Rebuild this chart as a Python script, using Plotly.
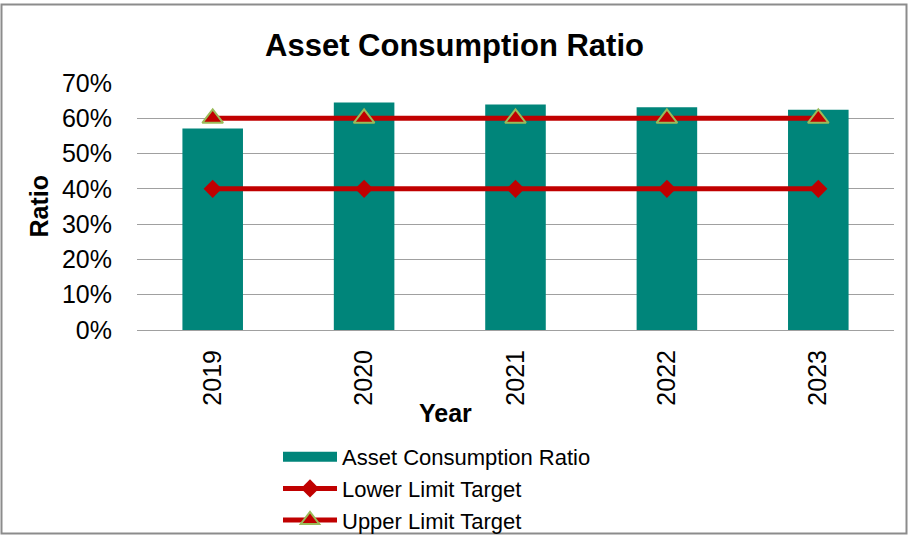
import plotly.graph_objects as go

years = ["2019", "2020", "2021", "2022", "2023"]
consumption_ratio = [0.571, 0.645, 0.639, 0.631, 0.624]
lower_limit = [0.40, 0.40, 0.40, 0.40, 0.40]
upper_limit = [0.60, 0.60, 0.60, 0.60, 0.60]

FONT = "Arial, Liberation Sans, sans-serif"
RED = "#C00000"
TEAL = "#00857A"

fig = go.Figure()
fig.add_trace(go.Bar(
    x=years, y=consumption_ratio, name="Asset Consumption Ratio",
    marker=dict(color=TEAL, line=dict(width=0)),
    legendgroup="acr", showlegend=False,
))
# wide teal key for the bar series in the legend
fig.add_trace(go.Scatter(
    x=[None], y=[None], name="Asset Consumption Ratio", mode="lines",
    line=dict(color=TEAL, width=14), legendgroup="acr", hoverinfo="skip",
))
fig.add_trace(go.Scatter(
    x=years, y=lower_limit, name="Lower Limit Target", mode="lines+markers",
    line=dict(color=RED, width=5),
    marker=dict(symbol="diamond", size=14, color=RED),
))
fig.add_trace(go.Scatter(
    x=years, y=upper_limit, name="Upper Limit Target", mode="lines+markers",
    line=dict(color=RED, width=5),
    marker=dict(symbol="triangle-up", size=18, color=RED,
                line=dict(color="#9BBB59", width=2)),
))

L, R, T, B = 137, 15, 83, 205
W, H = 909, 535
pw, ph = W - L - R, H - T - B

fig.update_layout(
    width=W, height=H,
    margin=dict(l=L, r=R, t=T, b=B, autoexpand=False),
    paper_bgcolor="white", plot_bgcolor="white",
    font=dict(family=FONT, size=25, color="black"),
    bargap=0.6,
    title=dict(text="<b>Asset Consumption Ratio</b>", x=0.5, xref="container",
               y=1 - 45 / H, yref="container", xanchor="center", yanchor="middle",
               font=dict(size=31, family=FONT)),
    showlegend=True,
    legend=dict(
        orientation="v", x=278 / W, xref="container", xanchor="left",
        y=1 - 436 / H, yref="container", yanchor="top",
        font=dict(size=22, family=FONT), bgcolor="rgba(0,0,0,0)",
        tracegroupgap=0, itemwidth=54,
    ),
    xaxis=dict(
        tickangle=-90, showgrid=False, showline=True, linecolor="#A0A0A0",
        linewidth=1, tickfont=dict(size=25),
        ticks="outside", ticklen=9, tickcolor="rgba(0,0,0,0)",
    ),
    yaxis=dict(
        range=[0, 0.70], dtick=0.10, tickformat=".0%",
        showgrid=True, gridcolor="#A0A0A0", gridwidth=1,
        zeroline=False, showline=False,
        ticks="outside", ticklen=19, tickcolor="rgba(0,0,0,0)",
        tickfont=dict(size=25),
    ),
    annotations=[
        dict(text="<b>Year</b>", x=(445 - L) / pw, xref="paper",
             y=-(413 - T - ph) / ph, yref="paper",
             showarrow=False, xanchor="center", yanchor="middle",
             font=dict(size=25, family=FONT)),
        dict(text="<b>Ratio</b>", x=(38 - L) / pw, xref="paper",
             y=0.5, yref="paper", textangle=-90,
             showarrow=False, xanchor="center", yanchor="middle",
             font=dict(size=25, family=FONT)),
    ],
)

# outer chart border
fig.add_shape(
    type="rect", xref="paper", yref="paper",
    x0=(1.5 - L) / pw, x1=(906.5 - L) / pw,
    y0=-(533.5 - T - ph) / ph, y1=1 + (T - 4.5) / ph,
    line=dict(color="#8C8C8C", width=2), fillcolor="rgba(0,0,0,0)", layer="below",
)

fig.write_html("out.html")
